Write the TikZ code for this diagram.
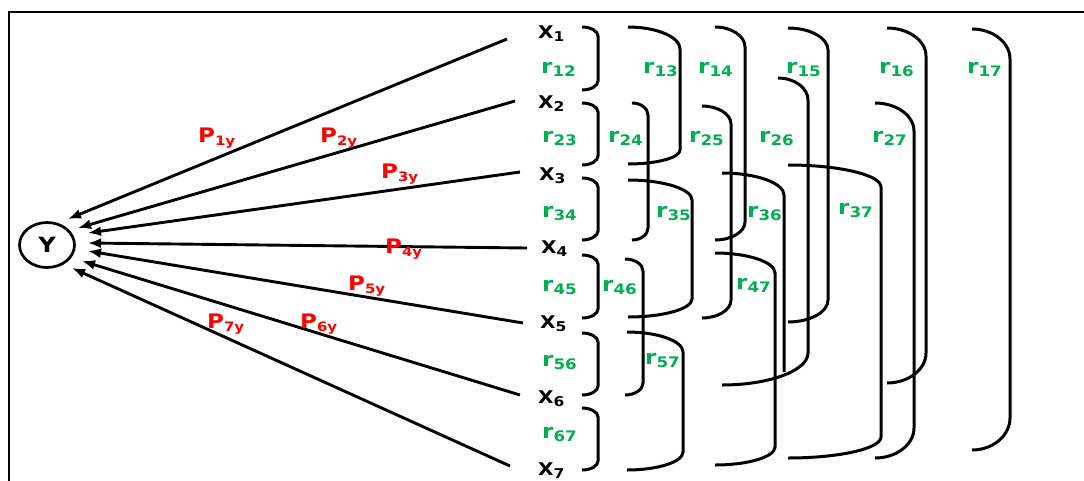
\documentclass[tikz,border=0pt]{standalone}
\usepackage{fontspec}
\setmainfont{DejaVu Sans}[FakeStretch=1.15]
\usetikzlibrary{arrows.meta,calc,shapes.geometric}
\definecolor{rgreen}{HTML}{00B050}
\definecolor{pred}{HTML}{FF0000}
\newcommand\xl[1]{\fontsize{17.5}{18}\selectfont X\raisebox{-3.5pt}{\fontsize{13.5}{14}\selectfont #1}}
\newcommand\rl[1]{\fontsize{20}{20}\selectfont r\raisebox{-3pt}{\fontsize{14.5}{15}\selectfont #1}}
\newcommand\pl[1]{\fontsize{20}{20}\selectfont P\raisebox{-3pt}{\fontsize{13}{13}\selectfont #1}}
% bracket: x0top, ytop, xv, ybot, x0bot, htop, hbot
\newcommand\brk[7]{\draw[brkline] (#1,#2) .. controls ({#1+0.55*(#3-#1)},#2) and (#3,{#2+0.45*#6}) .. (#3,{#2+#6}) -- (#3,{#4-#7}) .. controls (#3,{#4-0.45*#7}) and ({#5+0.55*(#3-#5)},#4) .. (#5,#4);}
\begin{document}
\begin{tikzpicture}[x=1pt,y=-1pt,font=\bfseries,
  frameline/.style={line width=2.6pt,black},
  brkline/.style={line width=3pt,black},
  arr/.style={line width=2.9pt,black,-{Latex[length=13pt,width=10pt]}},
  xlab/.style={inner sep=0pt,anchor=base west,text=black},
  rlab/.style={inner sep=0pt,anchor=base west,text=rgreen},
  plab/.style={inner sep=0pt,anchor=base west,text=pred},
  ynode/.style={ellipse,draw,line width=2.7pt,minimum width=55pt,minimum height=45pt,inner sep=0pt,font=\bfseries\fontsize{21}{21}\selectfont}]
\useasboundingbox (0,0) rectangle (1084,480);
\fill[white] (0,0) rectangle (1084,480);
\draw[frameline] (9,481) -- (9,12) -- (1085,12);

% Y node
\node[ynode] (Y) at (47,245) {Y};

% X labels
\node[xlab] (X1) at (538,38) {\xl{1}};
\node[xlab] (X2) at (538,108) {\xl{2}};
\node[xlab] (X3) at (539,180) {\xl{3}};
\node[xlab] (X4) at (541,253) {\xl{4}};
\node[xlab] (X5) at (540,328) {\xl{5}};
\node[xlab] (X6) at (538,403) {\xl{6}};
\node[xlab] (X7) at (538,475) {\xl{7}};

% arrow starts
\coordinate (s1) at (507,39);
\coordinate (s2) at (515,101);
\coordinate (s3) at (520,172);
\coordinate (s4) at (527,248);
\coordinate (s5) at (523,323);
\coordinate (s6) at (520,395);
\coordinate (s7) at (510,466);

\draw[arr] (s1) -- ($(Y)+(21,-26)$);
\draw[arr] (s2) -- ($(Y)+(31,-17)$);
\draw[arr] (s3) -- ($(Y)+(41,-12)$);
\draw[arr] (s4) -- ($(Y)+(41,-2)$);
\draw[arr] (s5) -- ($(Y)+(41,6)$);
\draw[arr] (s6) -- ($(Y)+(35,16)$);
\draw[arr] (s7) -- ($(Y)+(25,23)$);

% P labels
\node[plab] (p1) at (198,142) {\pl{1y}};
\node[plab] (p2) at (320,142) {\pl{2y}};
\node[plab] (p3) at (381,178) {\pl{3y}};
\node[plab] (p4) at (385,253) {\pl{4y}};
\node[plab] (p5) at (348,290) {\pl{5y}};
\node[plab] (p6) at (300,328) {\pl{6y}};
\node[plab] (p7) at (207,328) {\pl{7y}};

% brackets column 1
\brk{582}{27}{598}{90}{582}{9}{9}
\brk{582}{103}{598}{165}{582}{9}{9}
\brk{582}{178}{598}{240}{582}{9}{9}
\brk{582}{255}{598}{318}{582}{9}{9}
\brk{582}{333}{598}{395}{582}{9}{9}
\brk{582}{408}{598}{470}{582}{9}{9}
% column 2
\brk{628}{27}{680}{164}{628}{22}{14}
\brk{632}{103}{648}{240}{632}{12}{12}
\brk{628}{180}{692}{317}{628}{20}{18}
\brk{625}{259}{643}{395}{625}{12}{12}
\brk{627}{332}{683}{470}{627}{20}{18}
% column 3
\brk{715}{27}{745}{240}{715}{20}{18}
\brk{702}{106}{731}{318}{702}{18}{18}
\draw[brkline] (722,173) .. controls (756,173) and (784,183) .. (784,195) -- (784,372);
\brk{715}{253}{775}{465}{715}{20}{18}
\brk{778}{78}{808}{385}{722}{22}{32}
\brk{788}{28}{828}{322}{788}{22}{22}
% column 4
\brk{788}{165}{881}{458}{788}{22}{21}
\brk{875}{103}{914}{458}{875}{28}{30}
\brk{887}{28}{926}{383}{887}{28}{30}
\brk{972}{29}{1010}{450}{972}{30}{32}

% r labels
\node[rlab] (r12) at (541,73) {\rl{12}};
\node[rlab] (r13) at (643,73) {\rl{13}};
\node[rlab] (r14) at (698,73) {\rl{14}};
\node[rlab] (r15) at (786,73) {\rl{15}};
\node[rlab] (r16) at (879,73) {\rl{16}};
\node[rlab] (r17) at (967,73) {\rl{17}};
\node[rlab] (r23) at (542,142) {\rl{23}};
\node[rlab] (r24) at (608,142) {\rl{24}};
\node[rlab] (r25) at (689,142) {\rl{25}};
\node[rlab] (r26) at (759,142) {\rl{26}};
\node[rlab] (r27) at (872,142) {\rl{27}};
\node[rlab] (r34) at (542,217) {\rl{34}};
\node[rlab] (r35) at (656,217) {\rl{35}};
\node[rlab] (r36) at (747,217) {\rl{36}};
\node[rlab] (r37) at (838,214) {\rl{37}};
\node[rlab] (r45) at (542,291) {\rl{45}};
\node[rlab] (r46) at (602,291) {\rl{46}};
\node[rlab] (r47) at (736,289) {\rl{47}};
\node[rlab] (r56) at (542,366) {\rl{56}};
\node[rlab] (r57) at (645,364) {\rl{57}};
\node[rlab] (r67) at (542,438) {\rl{67}};
\end{tikzpicture}
\end{document}
